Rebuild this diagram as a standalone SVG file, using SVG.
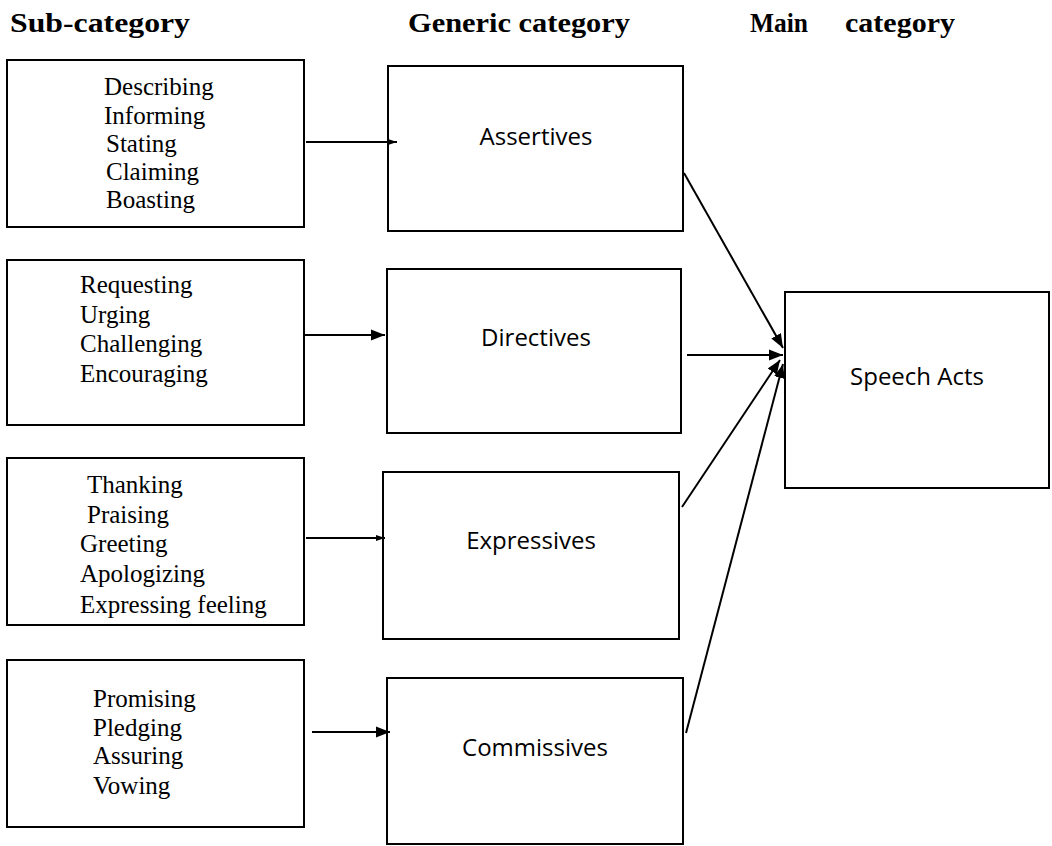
<svg xmlns="http://www.w3.org/2000/svg" width="1052" height="846" viewBox="0 0 1052 846">
<style>
.box{fill:#fff;stroke:#000;stroke-width:2}
.hd{font-family:"Liberation Serif","Times New Roman",serif;font-weight:bold;font-size:27px;fill:#000}
.it{font-family:"Liberation Serif","Times New Roman",serif;font-size:25px;fill:#000}
.lb{font-family:"Open Sans","Noto Sans",sans-serif;font-size:24px;fill:#000;text-anchor:middle}
.cn{fill:none;stroke:#000;stroke-width:2}
</style>
<defs>
<marker id="ah" markerUnits="userSpaceOnUse" markerWidth="15" markerHeight="12" refX="14" refY="6" orient="auto"><path d="M0,0.5 L14,6 L0,11.5 z" fill="#000"/></marker>
<marker id="ahs" markerUnits="userSpaceOnUse" markerWidth="10" markerHeight="8" refX="9" refY="4" orient="auto"><path d="M0,1 L9,4 L0,7 z" fill="#000"/></marker>
</defs>
<rect width="1052" height="846" fill="#fff"/>
<g id="headers">
<text class="hd" x="10" y="32" textLength="180" lengthAdjust="spacingAndGlyphs">Sub-category</text>
<text class="hd" x="408" y="32" textLength="222" lengthAdjust="spacingAndGlyphs">Generic category</text>
<text class="hd" x="750" y="32" textLength="58" lengthAdjust="spacingAndGlyphs">Main</text>
<text class="hd" x="845" y="32" textLength="110" lengthAdjust="spacingAndGlyphs">category</text>
</g>
<g id="sub1"><rect class="box" x="7" y="60" width="297" height="167"/>
<text class="it" x="104" y="95">Describing</text><text class="it" x="104" y="124">Informing</text><text class="it" x="106" y="152">Stating</text><text class="it" x="106" y="180">Claiming</text><text class="it" x="106" y="208">Boasting</text></g>
<g id="sub2"><rect class="box" x="7" y="260" width="297" height="165"/>
<text class="it" x="80" y="293">Requesting</text><text class="it" x="80" y="323">Urging</text><text class="it" x="80" y="352">Challenging</text><text class="it" x="80" y="382">Encouraging</text></g>
<g id="sub3"><rect class="box" x="7" y="458" width="297" height="167"/>
<text class="it" x="87" y="493">Thanking</text><text class="it" x="87" y="523">Praising</text><text class="it" x="80" y="552">Greeting</text><text class="it" x="80" y="582">Apologizing</text><text class="it" x="80" y="613">Expressing feeling</text></g>
<g id="sub4"><rect class="box" x="7" y="660" width="297" height="167"/>
<text class="it" x="93" y="707">Promising</text><text class="it" x="93" y="736">Pledging</text><text class="it" x="93" y="764">Assuring</text><text class="it" x="93" y="794">Vowing</text></g>
<g id="assertives"><rect class="box" x="388" y="66" width="295" height="165"/><text class="lb" x="536" y="145">Assertives</text></g>
<g id="directives"><rect class="box" x="387" y="269" width="294" height="164"/><text class="lb" x="536" y="346">Directives</text></g>
<g id="expressives"><rect class="box" x="383" y="472" width="296" height="167"/><text class="lb" x="531" y="549">Expressives</text></g>
<g id="commissives"><rect class="box" x="387" y="678" width="296" height="166"/><text class="lb" x="535" y="756">Commissives</text></g>
<g id="speechacts"><rect class="box" x="785" y="292" width="264" height="196"/><text class="lb" x="917" y="385">Speech Acts</text></g>
<g id="connectors">
<line class="cn" x1="306" y1="142" x2="397" y2="142" marker-end="url(#ahs)"/>
<line class="cn" x1="305" y1="335" x2="385" y2="335" marker-end="url(#ah)"/>
<line class="cn" x1="306" y1="538" x2="385" y2="538" marker-end="url(#ahs)"/>
<line class="cn" x1="312" y1="732" x2="390" y2="732" marker-end="url(#ah)"/>
<line class="cn" x1="684" y1="173" x2="783" y2="348" marker-end="url(#ah)"/>
<line class="cn" x1="687" y1="355" x2="783" y2="355" marker-end="url(#ah)"/>
<line class="cn" x1="682" y1="507" x2="780" y2="360" marker-end="url(#ah)"/>
<line class="cn" x1="686" y1="733" x2="783" y2="364" marker-end="url(#ah)"/>
</g>
</svg>
